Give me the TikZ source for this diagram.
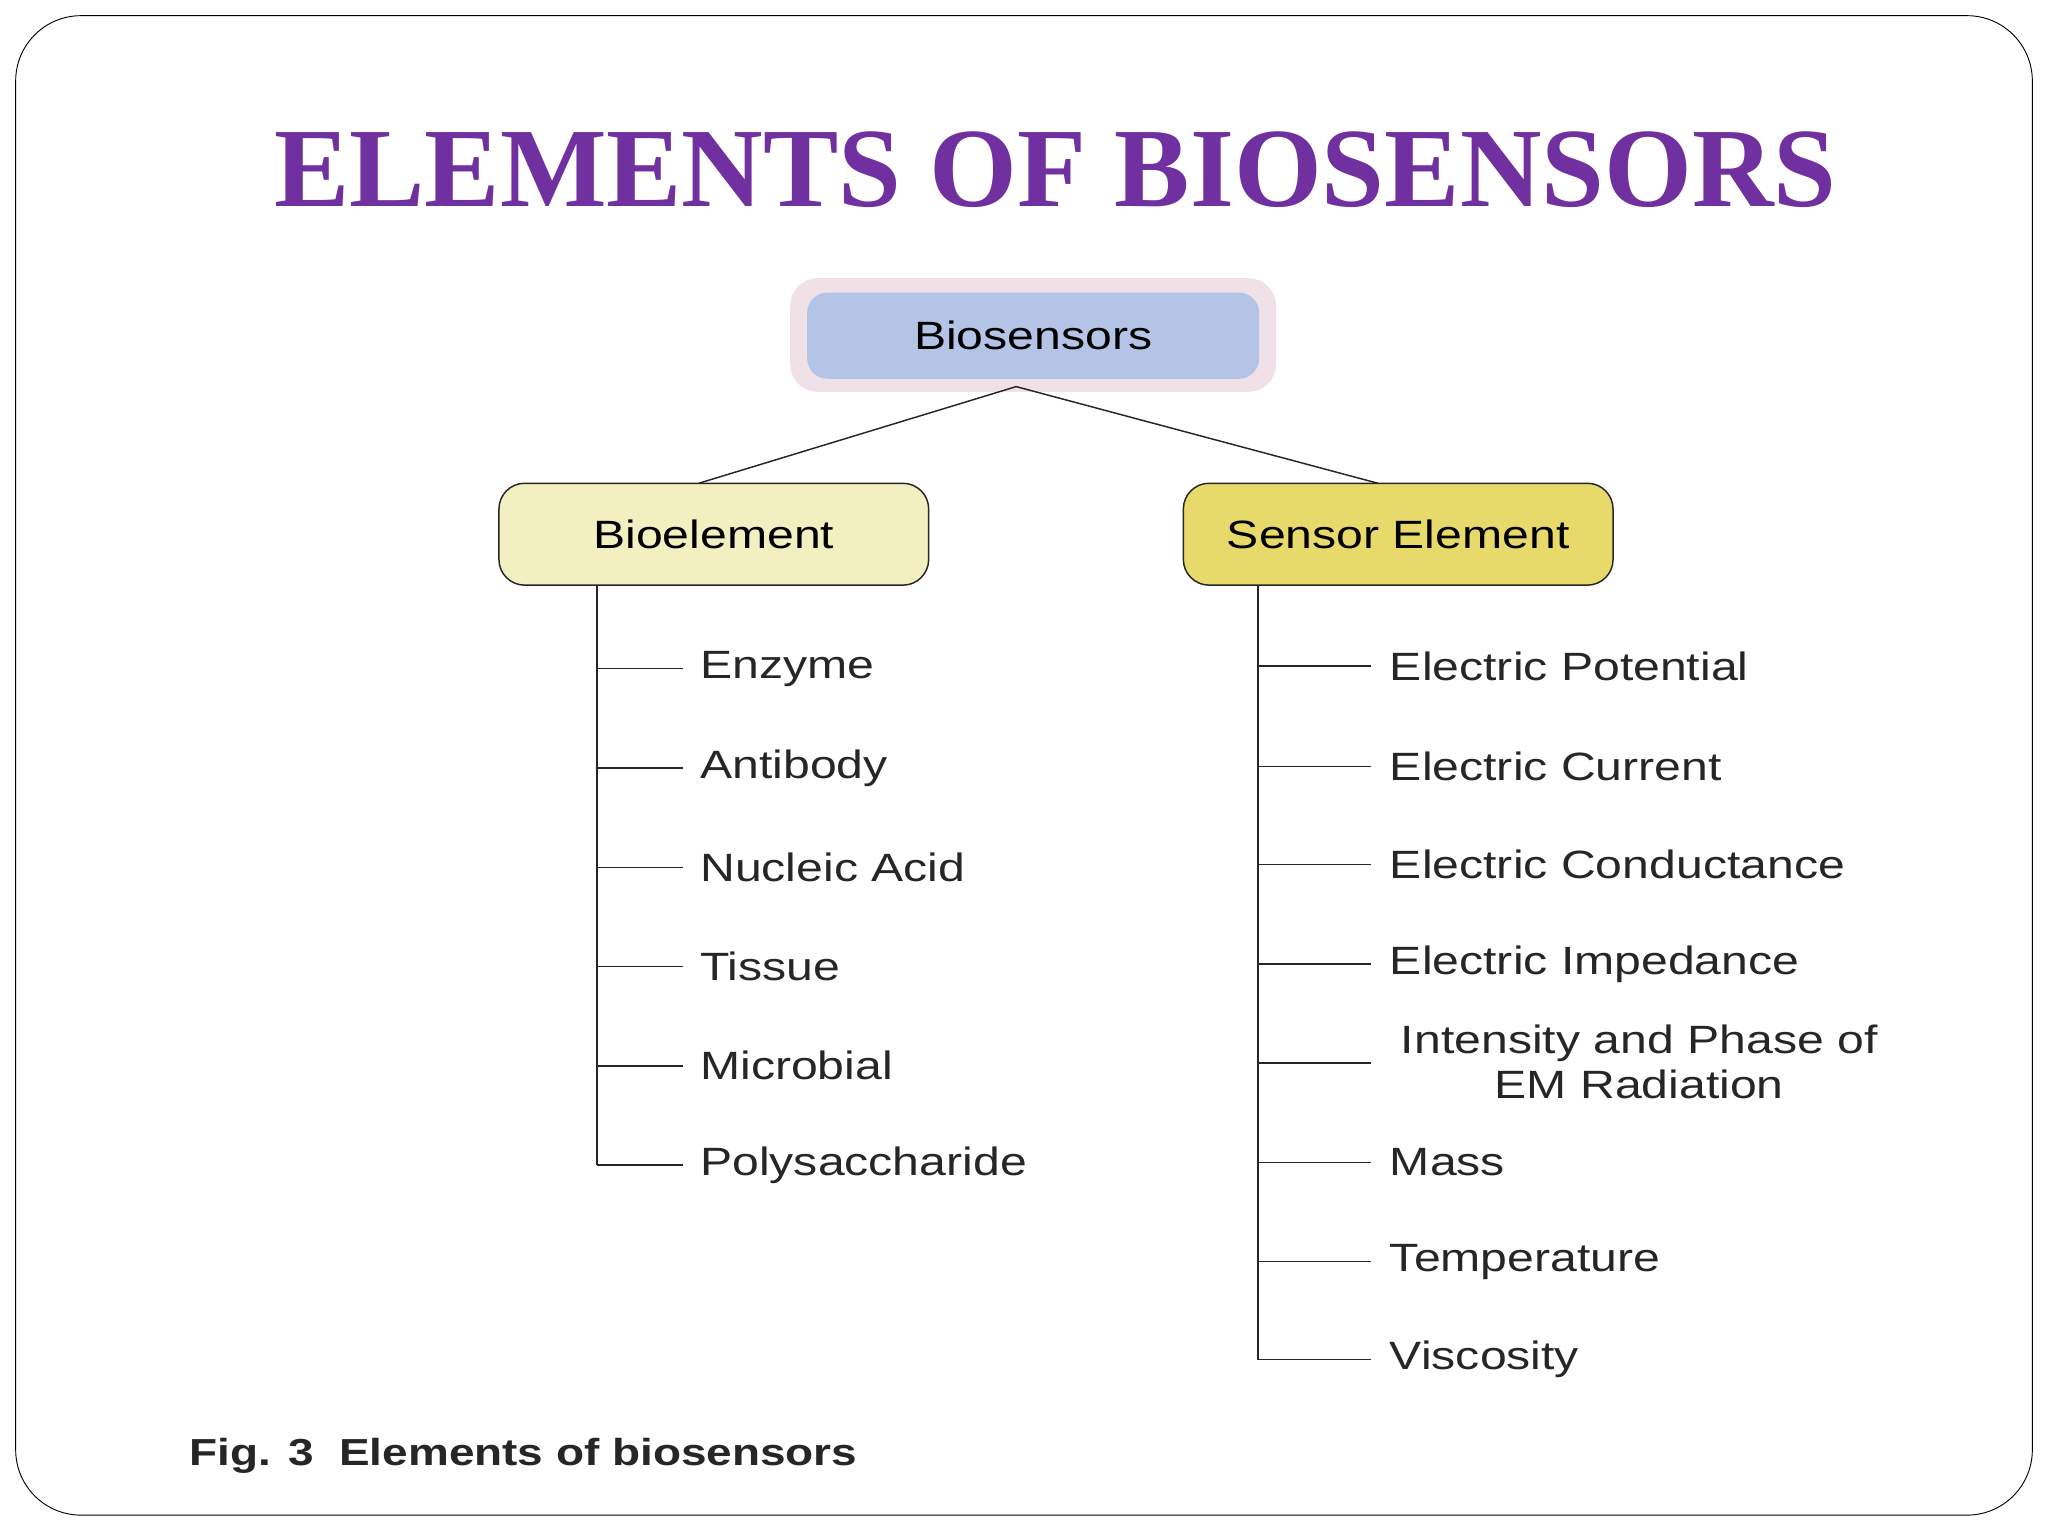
\documentclass[tikz,border=0pt]{standalone}
\usepackage{fontspec}
\setmainfont{Liberation Sans}[FakeStretch=1.22]
\newfontfamily\titlefont{Liberation Serif}
\definecolor{ttl}{HTML}{7030A0}
\definecolor{bluebox}{HTML}{B4C4E6}
\definecolor{halo}{HTML}{F0E0E8}
\definecolor{bioel}{HTML}{F2EFC0}
\definecolor{sensel}{HTML}{E8DA6A}
\begin{document}
\begin{tikzpicture}[x=0.05cm,y=-0.05cm,
  lbl/.style={anchor=west,inner sep=0pt,font=\fontsize{43}{50}\selectfont,text=black!85},
  catbox/.style={draw=black!85,line width=1.6pt,rounded corners=28pt,minimum width=329*0.05cm,minimum height=78*0.05cm,font=\fontsize{43}{50}\selectfont},
  conn/.style={line width=1.6pt,draw=black!85}]
\path[use as bounding box] (0,0) rectangle (1568,1176);
\draw[line width=1pt,rounded corners=50*0.05cm] (12,12) rectangle (1556,1160);
\node[font=\titlefont\bfseries\fontsize{123}{125}\selectfont,text=ttl] (title) at (808,130) {ELEMENTS OF BIOSENSORS};
\fill[halo,rounded corners=30pt] (605,213) rectangle (977,300);
\node[fill=bluebox,rounded corners=22pt,minimum width=346*0.05cm,minimum height=66*0.05cm,font=\fontsize{43}{50}\selectfont] (bio) at (791,257) {Biosensors};
\node[catbox,fill=bioel] (be) at (546.5,409) {Bioelement};
\node[catbox,fill=sensel] (se) at (1070.5,409) {Sensor Element};
\coordinate (top) at (778,296);
\coordinate (beT) at (535,370);
\coordinate (seT) at (1055,370);
\draw[conn] (beT) -- (top) -- (seT);
% left
\coordinate (lt) at (457,448);
\foreach \y/\t [count=\i] in {512/Enzyme,588/Antibody,664/Nucleic Acid,740/Tissue,816/Microbial,892/Polysaccharide}{
  \node[lbl] (L\i) at (536,\y) {\t};
  \coordinate (lb\i) at (457,\y);
  \draw[conn] (lb\i) -- (523,\y);
}
\draw[conn] (lt) -- (lb6);
% right
\coordinate (rt) at (963,448);
\foreach \y/\t [count=\i] in {510/Electric Potential,587/Electric Current,662/Electric Conductance,738/Electric Impedance,890/Mass,966/Temperature,1041/Viscosity}{
  \node[lbl] (R\i) at (1064,\y) {\t};
  \coordinate (rb\i) at (963,\y);
  \draw[conn] (rb\i) -- (1050,\y);
}
\node[font=\fontsize{43}{49}\selectfont,align=center,inner sep=0pt,text=black!85] (em) at (1255,813) {Intensity and Phase of\\EM Radiation};
\coordinate (rbem) at (963,814);
\draw[conn] (rbem) -- (1050,814);
\draw[conn] (rt) -- (rb7);
\node[lbl,font=\bfseries\fontsize{41}{46}\selectfont] (cap) at (145,1115) {Fig. 3\ \ Elements of biosensors};
\end{tikzpicture}
\end{document}
